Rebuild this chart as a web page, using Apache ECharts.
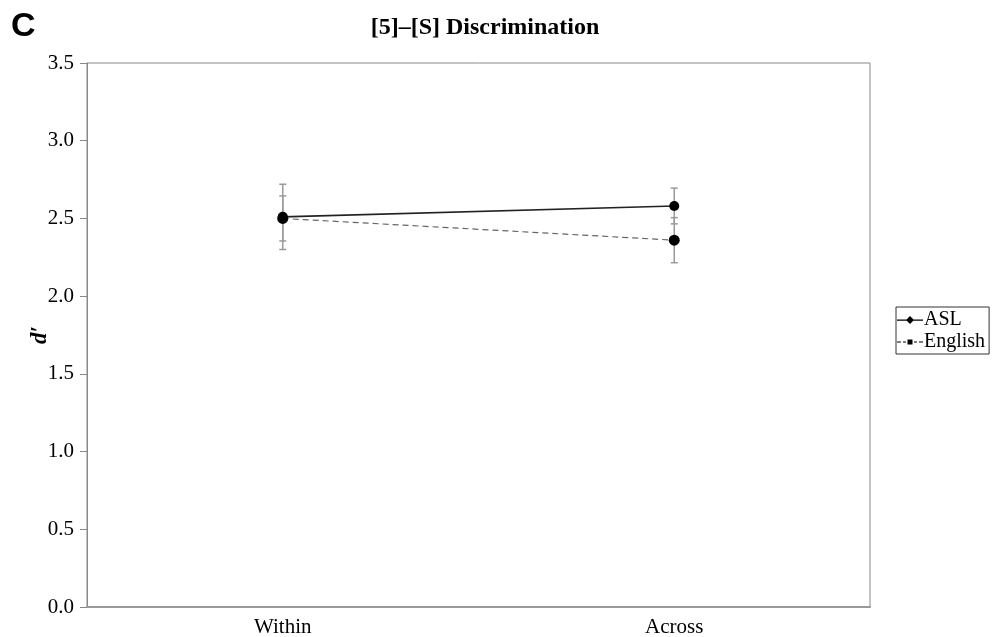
<!DOCTYPE html>
<html>
<head>
<meta charset="utf-8">
<script src="https://cdn.jsdelivr.net/npm/echarts@6/dist/echarts.min.js"></script>
<style>
  html, body { margin: 0; padding: 0; background: #fff; }
  #chart { width: 999px; height: 637px; }
</style>
</head>
<body>
<div id="chart"></div>
<script>
// data
var categories = ["Within", "Across"];
var aslValues = [2.51, 2.58];
var aslErr = [0.21, 0.115];
var englishValues = [2.5, 2.36];
var englishErr = [0.145, 0.145];
var yTicks = [0, 0.5, 1, 1.5, 2, 2.5, 3, 3.5];

var serif = "'Liberation Serif', 'DejaVu Serif', serif";

function errData(vals, errs) {
  return vals.map(function (v, i) {
    return [i, v - errs[i], v + errs[i]];
  });
}

function errorBars(name, vals, errs) {
  return {
    name: name + " err",
    type: "custom",
    z: 1,
    silent: true,
    data: errData(vals, errs),
    renderItem: function (params, api) {
      var x = api.value(0);
      var lo = api.coord([x, api.value(1)]);
      var hi = api.coord([x, api.value(2)]);
      var cap = 3.5;
      var st = { stroke: "#9a9a9a", lineWidth: 1.5 };
      return {
        type: "group",
        children: [
          { type: "line", shape: { x1: lo[0], y1: lo[1], x2: hi[0], y2: hi[1] }, style: st },
          { type: "line", shape: { x1: lo[0] - cap, y1: lo[1], x2: lo[0] + cap, y2: lo[1] }, style: st },
          { type: "line", shape: { x1: hi[0] - cap, y1: hi[1], x2: hi[0] + cap, y2: hi[1] }, style: st }
        ]
      };
    }
  };
}

var chart = echarts.init(document.getElementById("chart"));
chart.setOption({
  animation: false,
  graphic: [
    {
      type: "text",
      left: 11,
      top: 10,
      style: { text: "C", font: "bold 34px 'Liberation Sans', Arial, sans-serif", fill: "#000" }
    }
  ],
  title: {
    text: "[5]–[S] Discrimination",
    left: 480,
    textAlign: "center",
    top: 11,
    textStyle: { fontFamily: serif, fontWeight: "bold", fontSize: 24, color: "#000" }
  },
  legend: {
    orient: "vertical",
    left: 896,
    top: 307,
    itemGap: 2,
    padding: [3, 4, 2, 1],
    borderColor: "#333",
    borderWidth: 1,
    itemWidth: 26,
    itemHeight: 9,
    textStyle: { fontFamily: serif, fontSize: 20, lineHeight: 16, color: "#000", padding: [0, 0, 0, -4] },
    data: [
      { name: "ASL", icon: "path://M0,4h26v1.2h-26z M13,0.5l4,4l-4,4l-4,-4z" },
      { name: "English", icon: "path://M0,4h4v1h-4z M6,4h3v1h-3z M17,4h3v1h-3z M22,4h4v1h-4z M10.5,2h5v5h-5z" }
    ]
  },
  grid: {
    left: 87,
    right: 129,
    top: 63,
    bottom: 30,
    outerBoundsMode: "none",
    show: true,
    borderColor: "#888",
    borderWidth: 1
  },
  xAxis: {
    type: "category",
    data: categories,
    boundaryGap: true,
    axisLine: { lineStyle: { color: "#999", width: 2 } },
    axisTick: { length: 5, lineStyle: { color: "#888" } },
    axisLabel: { fontFamily: serif, fontSize: 21, color: "#000", margin: 10 }
  },
  yAxis: {
    type: "value",
    min: 0,
    max: 3.5,
    interval: 0.5,
    name: "d′",
    nameLocation: "middle",
    nameGap: 35,
    nameMoveOverlap: false,
    nameTextStyle: { fontFamily: serif, fontSize: 23, fontWeight: "bold", fontStyle: "italic", color: "#000" },
    axisLine: { show: true, lineStyle: { color: "#888" } },
    axisTick: { show: true, inside: false, length: 7, lineStyle: { color: "#888" } },
    splitLine: { show: false },
    axisLabel: {
      fontFamily: serif,
      fontSize: 21,
      color: "#000",
      margin: 13,
      formatter: function (v) { return yTicks.indexOf(v) >= 0 ? v.toFixed(1) : ""; }
    }
  },
  series: [
    errorBars("ASL", aslValues, aslErr),
    errorBars("English", englishValues, englishErr),
    {
      name: "English",
      type: "line",
      z: 3,
      data: englishValues,
      symbol: "circle",
      symbolSize: 11,
      itemStyle: { color: "#000" },
      lineStyle: { color: "#666", width: 1.2, type: [6, 4] }
    },
    {
      name: "ASL",
      type: "line",
      z: 4,
      data: aslValues,
      symbol: "circle",
      symbolSize: 10,
      itemStyle: { color: "#000" },
      lineStyle: { color: "#222", width: 1.6 }
    }
  ]
});
</script>
</body>
</html>
